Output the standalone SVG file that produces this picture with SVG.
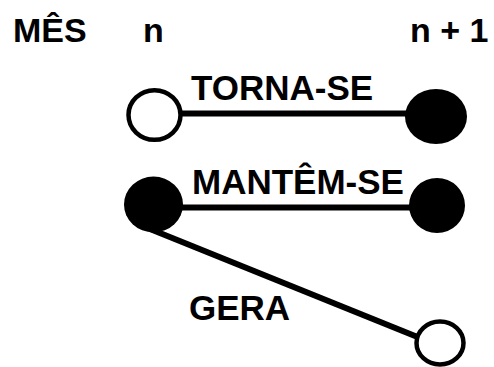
<svg xmlns="http://www.w3.org/2000/svg" width="494" height="367" viewBox="0 0 494 367">
  <style>
    .lbl { font-family: "Liberation Sans", Arial, sans-serif; font-weight: bold; fill: #000; }
    .hdr { font-size: 34px; }
    .edge-lbl { font-size: 35px; }
    .wire { stroke: #000; stroke-width: 6; fill: none; }
    .open { fill: #fff; stroke: #000; stroke-width: 4.5; }
    .full { fill: #000; stroke: none; }
  </style>
  <rect width="494" height="367" fill="#fff"/>

  <!-- column headers -->
  <g id="headers">
    <text class="lbl hdr" x="13" y="42">MÊS</text>
    <text class="lbl hdr" x="143" y="42">n</text>
    <text class="lbl hdr" x="410" y="42">n + 1</text>
  </g>

  <!-- connectors -->
  <g id="connectors">
    <line class="wire" x1="155" y1="113.5" x2="436" y2="113.5"/>
    <line class="wire" x1="153" y1="207.5" x2="437" y2="207.5"/>
    <line class="wire" x1="150" y1="229" x2="420" y2="338"/>
  </g>

  <!-- connector labels -->
  <g id="labels">
    <text class="lbl edge-lbl" x="191" y="100">TORNA-SE</text>
    <text class="lbl edge-lbl" x="192" y="194">MANTÊM-SE</text>
    <text class="lbl edge-lbl" x="189" y="320">GERA</text>
  </g>

  <!-- nodes -->
  <g id="node-n-open">
    <ellipse class="open" cx="154.5" cy="115" rx="26" ry="24.8"/>
  </g>
  <g id="node-n1-full-a">
    <ellipse class="full" cx="436" cy="116.5" rx="31" ry="27.5"/>
  </g>
  <g id="node-n-full">
    <ellipse class="full" cx="153.5" cy="204.5" rx="29.5" ry="28"/>
  </g>
  <g id="node-n1-full-b">
    <ellipse class="full" cx="437" cy="205.5" rx="28" ry="27.5"/>
  </g>
  <g id="node-n1-open">
    <ellipse class="open" cx="440" cy="343" rx="23.5" ry="21.5"/>
  </g>
</svg>
